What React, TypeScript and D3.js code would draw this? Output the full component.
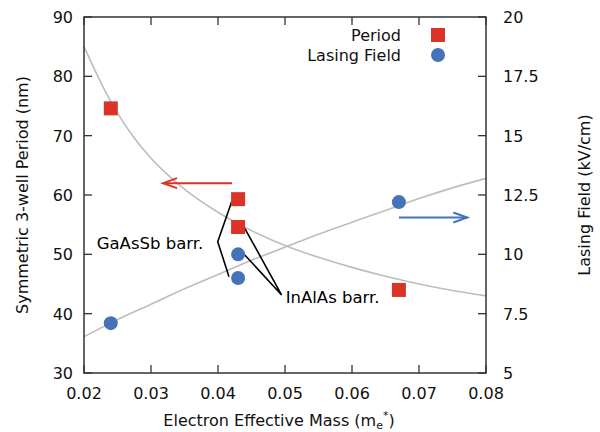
import React from "react";
import * as d3 from "d3";

// measured points
const periodMass = [0.024, 0.043, 0.043, 0.067];
const periodNm = [74.6, 59.3, 54.6, 44.0];
const fieldMass = [0.024, 0.043, 0.043, 0.067];
const fieldKv = [7.1, 10.0, 9.0, 12.2];

// fitted curves
const periodFitMass = [0.02, 0.0225, 0.025, 0.0275, 0.03, 0.035, 0.04, 0.045, 0.05, 0.055, 0.06, 0.065, 0.07, 0.075, 0.08];
const periodFitNm = [85, 79, 73.8, 69.6, 66.2, 61.0, 57.1, 54.0, 51.5, 49.5, 47.8, 46.3, 45.0, 43.9, 43.0];
const fieldFitMass = [0.02, 0.025, 0.03, 0.035, 0.04, 0.045, 0.05, 0.055, 0.06, 0.065, 0.07, 0.075, 0.08];
const fieldFitKv = [6.53, 7.25, 7.9, 8.55, 9.15, 9.75, 10.3, 10.85, 11.35, 11.85, 12.35, 12.8, 13.2];

const xTicks = [0.02, 0.03, 0.04, 0.05, 0.06, 0.07, 0.08];
const leftTicks = [30, 40, 50, 60, 70, 80, 90];
const rightTicks = [5, 7.5, 10, 12.5, 15, 17.5, 20];

const RED = "#dc3328";
const BLUE = "#4473b9";
const GRAY = "#bdbdbd";
const AXIS = "#333333";
const FONT = "DejaVu Sans, sans-serif";

const margin = { top: 17, right: 114, bottom: 59, left: 84 };
const W = 600;
const H = 432;

export default function App() {
  const x = d3.scaleLinear().domain([0.02, 0.08]).range([margin.left, W - margin.right]);
  const yL = d3.scaleLinear().domain([30, 90]).range([H - margin.bottom, margin.top]);
  const yR = d3.scaleLinear().domain([5, 20]).range([H - margin.bottom, margin.top]);

  const periodLine = d3
    .line<number>()
    .x((d) => x(d))
    .y((_, i) => yL(periodFitNm[i]))
    .curve(d3.curveMonotoneX);
  const fieldLine = d3
    .line<number>()
    .x((d) => x(d))
    .y((_, i) => yR(fieldFitKv[i]))
    .curve(d3.curveMonotoneX);

  const x0 = x(0.02), x1 = x(0.08), y0 = yL(30), y1 = yL(90);
  const tk = 8;

  const poly = (pts: [number, number][]) => pts.map((p) => `${x(p[0])},${yL(p[1])}`).join(" ");

  const arrowHead = (xa: number, ya: number, dir: number, color: string) => (
    <polyline
      points={`${xa + dir * 14},${ya - 5} ${xa},${ya} ${xa + dir * 14},${ya + 5}`}
      fill="none"
      stroke={color}
      strokeWidth={2}
    />
  );

  const redY = yL(62);
  const blueY = yR(11.55);

  return (
    <svg width={W} height={H} style={{ position: "absolute", left: 0, top: 0 }} fontFamily={FONT}>
      <rect width={W} height={H} fill="white" />

      {/* fitted curves */}
      <path d={periodLine(periodFitMass) || ""} fill="none" stroke={GRAY} strokeWidth={1.6} />
      <path d={fieldLine(fieldFitMass) || ""} fill="none" stroke={GRAY} strokeWidth={1.6} />

      {/* annotation leaders */}
      <polyline points={poly([[0.04204, 58.87], [0.03996, 52.13], [0.04164, 46.23]])} fill="none" stroke="black" strokeWidth={1.6} />
      <polyline points={poly([[0.044, 54.39], [0.0495, 43.14], [0.044, 49.89]])} fill="none" stroke="black" strokeWidth={1.6} />
      <text x={x(0.0219)} y={yL(50.9)} fontSize={16.5} fill="black">GaAsSb barr.</text>
      <text x={x(0.0501)} y={yL(41.8)} fontSize={16.5} fill="black">InAlAs barr.</text>

      {/* arrows */}
      <line x1={x(0.0421)} x2={x(0.0318)} y1={redY} y2={redY} stroke={RED} strokeWidth={2} />
      {arrowHead(x(0.0318), redY, 1, RED)}
      <line x1={x(0.067)} x2={x(0.0772)} y1={blueY} y2={blueY} stroke={BLUE} strokeWidth={2} />
      {arrowHead(x(0.0772), blueY, -1, BLUE)}

      {/* data points */}
      {periodMass.map((m, i) => (
        <rect key={"p" + i} x={x(m) - 7} y={yL(periodNm[i]) - 7} width={14} height={14} fill={RED} />
      ))}
      {fieldMass.map((m, i) => (
        <circle key={"f" + i} cx={x(m)} cy={yR(fieldKv[i])} r={7} fill={BLUE} />
      ))}

      {/* frame */}
      <rect x={x0} y={y1} width={x1 - x0} height={y0 - y1} fill="none" stroke={AXIS} strokeWidth={1.5} />

      {/* x ticks */}
      {xTicks.map((t) => (
        <g key={"x" + t}>
          <line x1={x(t)} x2={x(t)} y1={y0} y2={y0 - tk} stroke={AXIS} strokeWidth={1.3} />
          <line x1={x(t)} x2={x(t)} y1={y1} y2={y1 + tk} stroke={AXIS} strokeWidth={1.3} />
          <text x={x(t)} y={y0 + 26} textAnchor="middle" fontSize={16} fill="#111">
            {t.toFixed(2)}
          </text>
        </g>
      ))}

      {/* left ticks */}
      {leftTicks.map((t) => (
        <g key={"l" + t}>
          <line x1={x0} x2={x0 + tk} y1={yL(t)} y2={yL(t)} stroke={AXIS} strokeWidth={1.3} />
          <text x={x0 - 11} y={yL(t) + 6} textAnchor="end" fontSize={16} fill="#111">
            {t}
          </text>
        </g>
      ))}

      {/* right ticks */}
      {rightTicks.map((t) => (
        <g key={"r" + t}>
          <line x1={x1} x2={x1 - tk} y1={yR(t)} y2={yR(t)} stroke={AXIS} strokeWidth={1.3} />
          <text x={x1 + 17} y={yR(t) + 6} textAnchor="start" fontSize={16} fill="#111">
            {t}
          </text>
        </g>
      ))}

      {/* axis titles */}
      <text x={(x0 + x1) / 2 - 6} y={426} textAnchor="middle" fontSize={16} fill="#111">
        Electron Effective Mass (m
        <tspan fontSize={11} dy={3}>e</tspan>
        <tspan fontSize={11} dy={-10}>*</tspan>
        <tspan dy={7}>)</tspan>
      </text>
      <text transform={`translate(28,${(y0 + y1) / 2}) rotate(-90)`} textAnchor="middle" fontSize={16} fill="#111">
        Symmetric 3-well Period (nm)
      </text>
      <text transform={`translate(590,${(y0 + y1) / 2}) rotate(-90)`} textAnchor="middle" fontSize={16} fill="#111">
        Lasing Field (kV/cm)
      </text>

      {/* legend */}
      <text x={401} y={41} textAnchor="end" fontSize={16} fill="#111">Period</text>
      <rect x={438 - 7} y={35 - 7} width={14} height={14} fill={RED} />
      <text x={401} y={61} textAnchor="end" fontSize={16} fill="#111">Lasing Field</text>
      <circle cx={438} cy={55} r={7} fill={BLUE} />
    </svg>
  );
}
